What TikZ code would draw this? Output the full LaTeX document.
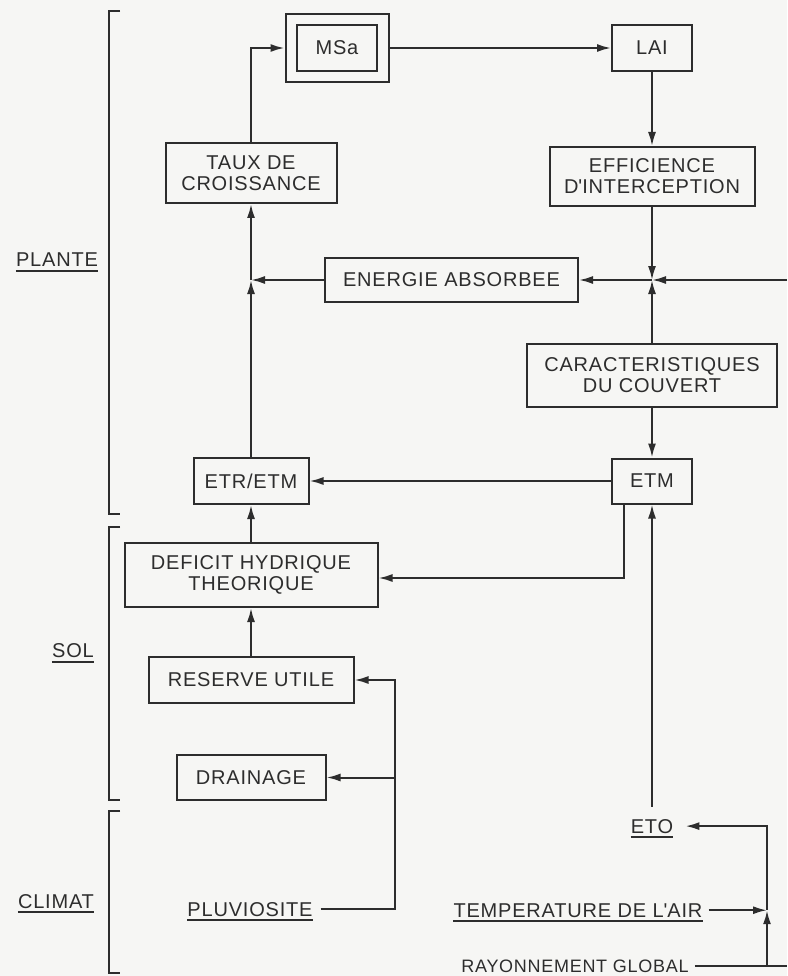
\documentclass[tikz,border=0pt]{standalone}
\usepackage{fontspec}
\setmainfont{Liberation Sans}[LetterSpace=4]
\usetikzlibrary{arrows.meta, calc, positioning}

\definecolor{papier}{RGB}{246,246,244}
\definecolor{encre}{RGB}{45,45,45}

\begin{document}
\begin{tikzpicture}[x=1pt, y=-1pt,
  boite/.style={draw=encre, line width=2pt, text=encre, align=center, inner sep=0pt, font=\fontsize{20}{21}\selectfont},
  etiq/.style={text=encre, inner sep=0pt, font=\fontsize{20}{21}\selectfont},
  fleche/.style={draw=encre, line width=2pt, -{Latex[length=14pt,width=8pt]}},
  trait/.style={draw=encre, line width=2pt},
  souligne/.style={draw=encre, line width=2pt}]
  \useasboundingbox[fill=papier] (0,0) rectangle (787,976);

  % boxes of the plant part
  \node[boite, minimum width=80pt, minimum height=46pt] (msa) at (337,48) {MSa};
  \node[boite, minimum width=103pt, minimum height=68pt] (msacadre) at (337,48) {};
  \node[boite, minimum width=80pt, minimum height=46pt] (lai) at (652,48) {LAI};
  \node[boite, minimum width=205pt, minimum height=59pt] (effic) at (652,176.5) {EFFICIENCE\\D\textquotesingle INTERCEPTION};
  \node[boite, minimum width=171pt, minimum height=60pt] (taux) at (251,173) {TAUX DE\\CROISSANCE};
  \node[boite, minimum width=253pt, minimum height=44pt] (energie) at (451.5,280) {ENERGIE ABSORBEE};
  \node[boite, minimum width=250pt, minimum height=63pt] (caract) at (652,375.5) {CARACTERISTIQUES\\DU COUVERT};
  \node[boite, minimum width=80pt, minimum height=45pt] (etm) at (652,481) {ETM};
  \node[boite, minimum width=115pt, minimum height=46pt] (etr) at (251,481) {ETR/ETM};

  % boxes of the soil part
  \node[boite, minimum width=253pt, minimum height=64pt] (deficit) at (251,575) {DEFICIT HYDRIQUE\\THEORIQUE};
  \node[boite, minimum width=205pt, minimum height=46pt] (reserve) at (251,680) {RESERVE UTILE};
  \node[boite, minimum width=149pt, minimum height=45pt] (drainage) at (251,777.5) {DRAINAGE};

  % underlined labels
  \node[etiq, anchor=base] (plante) at (57,266.5) {PLANTE};
  \node[etiq, anchor=base] (sol) at (73,657.5) {SOL};
  \node[etiq, anchor=base] (climat) at (56,908) {CLIMAT};
  \node[etiq, anchor=base] (pluvio) at (250,916) {PLUVIOSITE};
  \node[etiq, anchor=base] (eto) at (652,833) {ETO};
  \node[etiq, anchor=base] (temp) at (578,917) {TEMPERATURE DE L\textquotesingle AIR};
  \node[etiq, anchor=base, font=\fontsize{18}{20}\selectfont] (rayon) at (575,972) {RAYONNEMENT GLOBAL};
  \foreach \n in {plante,sol,climat,pluvio,eto,temp}
    \draw[souligne] ([yshift=-4pt]\n.base west) -- ([yshift=-4pt]\n.base east);

  % brackets
  \foreach \haut/\bas in {11/514, 527/800, 811/973}
    \draw[trait] (120,\haut) -- (109,\haut) -- (109,\bas) -- (120,\bas);

  % helper points
  \coordinate (bord) at (787,0);
  \coordinate (cote) at (767,0);
  \coordinate (pv) at (395,0);
  \coordinate (jonc) at (effic.south |- energie.east);
  \coordinate (somme) at (taux.south |- energie.west);

  % connectors
  \draw[fleche] (taux.north) |- (msacadre.west);
  \draw[fleche] (msacadre.east) -- (lai.west);
  \draw[fleche] (lai) -- (effic);
  \draw[fleche] (effic) -- (jonc);
  \draw[fleche] (caract) -- (jonc);
  \draw[fleche] (energie.east -| bord) -- (jonc);
  \draw[fleche] (jonc) -- (energie);
  \draw[fleche] (energie) -- (somme);
  \draw[fleche] (etr) -- (somme);
  \draw[fleche] (somme) -- (taux);
  \draw[fleche] (caract) -- (etm);
  \draw[fleche] (etm) -- (etr);
  \draw[fleche] ([xshift=-28pt]etm.south) |- ([yshift=-3pt]deficit.east);
  \draw[fleche] (deficit) -- (etr);
  \draw[fleche] (reserve) -- (deficit);
  \draw[fleche, shorten <=8pt] (pluvio.east) -| (reserve.east -| pv) -- (reserve.east);
  \draw[fleche] (drainage.east -| pv) -- (drainage.east);
  \draw[fleche, shorten <=12pt] (eto.north) -- (etm.south);
  \draw[fleche, shorten <=6pt] (temp.east) -- (temp.east -| cote);
  \draw[trait, shorten <=6pt] (rayon.east) -- (rayon.east -| bord);
  \draw[fleche] (rayon.east -| cote) -- (temp.east -| cote);
  \draw[fleche] (temp.east -| cote) |- ([xshift=12pt]eto.east);
\end{tikzpicture}
\end{document}
